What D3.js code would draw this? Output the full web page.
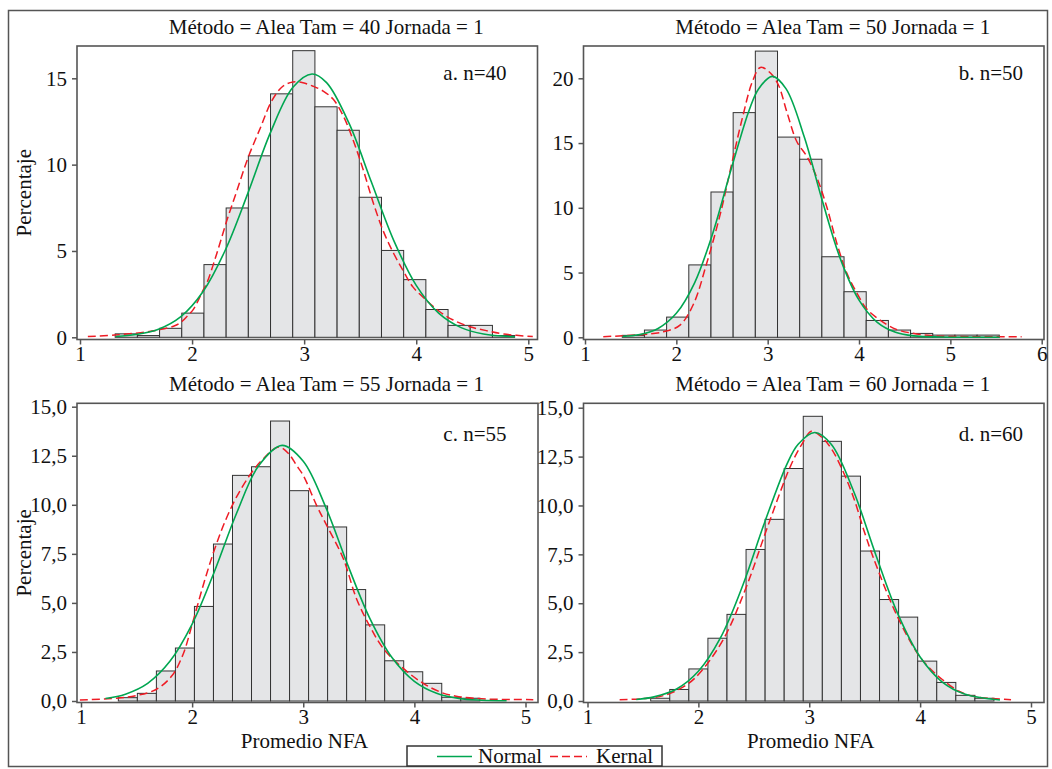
<!DOCTYPE html>
<html><head><meta charset="utf-8">
<script src="https://cdn.jsdelivr.net/npm/d3@7"></script>
<style>
body{margin:0;background:#fff}
</style>
</head><body>
<svg id="chart" width="1052" height="769"></svg>
<script>
// ---------- DATA ----------
const titles = ["Método = Alea Tam = 40 Jornada = 1","Método = Alea Tam = 50 Jornada = 1","Método = Alea Tam = 55 Jornada = 1","Método = Alea Tam = 60 Jornada = 1"];
const tags = ["a. n=40","b. n=50","c. n=55","d. n=60"];
const yTitle = "Percentaje";
const xTitle = "Promedio NFA";
const legendLabels = ["Normal","Kernal"];

const binStart = [1.314, 1.408, 1.336, 1.570];
const binWidth = [0.198, 0.2428, 0.1712, 0.172];

const pctA = [0.2,0.1,0.52,1.4,4.21,7.49,10.51,14.1,16.6,13.35,11.99,8.11,5.03,3.34,1.61,0.69,0.69,0.1];
const pctB = [0.15,0.56,1.56,5.59,11.22,17.35,22.1,15.46,13.75,6.22,3.52,1.3,0.56,0.3,0.17,0.17,0.17];
const pctC = [0.17,0.39,1.53,2.7,4.82,8.0,11.5,11.94,14.27,10.72,9.94,8.87,5.68,3.88,2.05,1.49,0.9,0.19,0.14];
const pctD = [0.14,0.59,1.64,3.21,4.43,7.75,9.29,11.89,14.56,13.28,11.5,7.67,5.19,4.29,2.04,0.95,0.29,0.14];

const normalA = [[1.32,0.05],[1.5,0.16],[1.7,0.47],[1.9,1.2],[2.1,2.67],[2.3,5.1],[2.5,8.38],[2.7,11.87],[2.9,14.48],[3.07,15.25],[3.2,14.75],[3.4,12.4],[3.6,8.99],[3.8,5.6],[4.0,3.01],[4.2,1.4],[4.4,0.56],[4.6,0.19],[4.88,0.03]];
const normalB = [[1.41,0.06],[1.6,0.21],[1.8,0.68],[2.0,1.85],[2.2,4.21],[2.4,8.06],[2.6,12.98],[2.8,17.59],[2.9,19.18],[3.05,20.15],[3.2,19.2],[3.4,15.48],[3.6,10.5],[3.8,5.98],[4.0,2.87],[4.2,1.16],[4.4,0.39],[4.6,0.11],[4.9,0.02],[5.2,0.0],[5.54,0.0]];
const normalC = [[1.22,0.13],[1.4,0.35],[1.6,0.9],[1.8,2.02],[2.0,3.92],[2.2,6.59],[2.4,9.57],[2.6,12.0],[2.81,13.03],[3.0,12.22],[3.2,9.91],[3.4,6.94],[3.6,4.2],[3.8,2.2],[4.0,1.0],[4.2,0.39],[4.4,0.13],[4.6,0.04],[4.83,0.01]];
const normalD = [[1.44,0.08],[1.6,0.21],[1.8,0.6],[2.0,1.52],[2.2,3.24],[2.4,5.91],[2.6,9.17],[2.8,12.13],[2.9,13.13],[3.05,13.73],[3.2,13.12],[3.4,10.73],[3.6,7.48],[3.8,4.44],[4.0,2.25],[4.2,0.97],[4.4,0.36],[4.72,0.05]];

const kernelA = [[1.07,0.04],[1.31,0.13],[1.54,0.27],[1.71,0.44],[1.85,0.68],[1.91,0.92],[1.96,1.25],[2.01,1.6],[2.1,2.75],[2.13,3.11],[2.22,4.84],[2.31,6.76],[2.4,8.49],[2.5,10.41],[2.61,12.14],[2.71,13.68],[2.81,14.54],[2.9,14.79],[2.99,14.74],[3.08,14.54],[3.17,14.26],[3.26,13.78],[3.35,12.81],[3.44,11.37],[3.53,9.64],[3.62,7.72],[3.71,6.09],[3.8,4.84],[3.89,3.78],[3.97,2.92],[4.09,2.15],[4.21,1.48],[4.33,1.0],[4.48,0.61],[4.63,0.38],[4.78,0.19],[5.04,0.04]];
const kernelB = [[1.2,0.05],[1.57,0.18],[1.86,0.43],[2.04,0.94],[2.19,2.6],[2.33,5.66],[2.48,9.49],[2.62,13.83],[2.73,17.14],[2.83,19.69],[2.92,20.84],[3.03,20.41],[3.12,19.44],[3.21,17.4],[3.32,15.1],[3.43,13.95],[3.54,12.3],[3.65,10.0],[3.76,7.19],[3.87,4.9],[3.98,3.37],[4.08,2.22],[4.23,1.33],[4.41,0.61],[4.63,0.26],[4.85,0.1],[5.22,0.05],[5.78,0.05]];
const kernelC = [[0.99,0.05],[1.32,0.14],[1.5,0.28],[1.68,0.6],[1.82,1.3],[1.92,2.4],[2.0,3.9],[2.1,5.9],[2.2,7.7],[2.3,9.2],[2.4,10.4],[2.53,11.6],[2.65,12.4],[2.78,12.95],[2.87,12.6],[2.94,12.0],[3.0,11.5],[3.12,9.97],[3.21,8.96],[3.36,7.26],[3.48,5.2],[3.6,3.8],[3.72,2.68],[3.9,1.66],[4.08,0.9],[4.25,0.42],[4.4,0.22],[4.65,0.1],[5.07,0.07]];
const kernelD = [[1.29,0.07],[1.5,0.12],[1.7,0.3],[1.9,0.85],[2.03,1.55],[2.23,3.2],[2.43,5.8],[2.63,9.0],[2.83,12.0],[2.93,13.1],[3.02,13.8],[3.11,13.5],[3.2,12.9],[3.3,11.8],[3.4,10.4],[3.5,8.6],[3.58,7.3],[3.78,4.5],[3.98,2.4],[4.1,1.6],[4.2,1.1],[4.35,0.5],[4.5,0.22],[4.82,0.07]];

const xTicksA = [1,2,3,4,5];
const xTicksB = [1,2,3,4,5,6];
const yTicksA = [0,5,10,15];
const yTicksB = [0,5,10,15,20];
const yTicksCD = [0,2.5,5,7.5,10,12.5,15];

// ---------- LAYOUT ----------
const FONT = 21;
const FAMILY = "'Liberation Serif', Tinos, 'Times New Roman', 'DejaVu Serif', serif";
const C_GREEN = "#00a651", C_RED = "#ee1c25";
const layout = [
  {box:[77,46,537.5,339.5],  xd:[1,5], xr:[80,528.3],  yd:[0,15], yr:[337.3,78.3]},
  {box:[583.5,46,1044,339.5],xd:[1,6], xr:[585,1041.7],yd:[0,20], yr:[337.3,78.3]},
  {box:[77,403.3,538,702.5], xd:[1,5], xr:[81,525.5],  yd:[0,15], yr:[701,406.7]},
  {box:[583.5,403.3,1044,702.5],xd:[1,5],xr:[587.5,1031],yd:[0,15],yr:[701,407.7]}
];
const panelData = [
  {pct:pctA, normal:normalA, kernel:kernelA, xt:xTicksA, yt:yTicksA, comma:false, ylab:true,  xlab:false, tagX:506.5, tagY:80},
  {pct:pctB, normal:normalB, kernel:kernelB, xt:xTicksB, yt:yTicksB, comma:false, ylab:false, xlab:false, tagX:1023, tagY:80},
  {pct:pctC, normal:normalC, kernel:kernelC, xt:xTicksA, yt:yTicksCD, comma:true, ylab:true,  xlab:true,  tagX:506.5, tagY:441},
  {pct:pctD, normal:normalD, kernel:kernelD, xt:xTicksA, yt:yTicksCD, comma:true, ylab:false, xlab:true,  tagX:1023, tagY:441}
];

const svg = d3.select("#chart").attr("font-family",FAMILY).style("font-family",FAMILY);
function txt(sel){ return sel.attr("font-family",FAMILY).style("font-family",FAMILY).style("font-size",FONT+"px").attr("fill","#111"); }

// outer frame
svg.append("rect").attr("x",8.5).attr("y",10.5).attr("width",1039).attr("height",756)
  .attr("fill","none").attr("stroke","#555").attr("stroke-width",1.5);

panelData.forEach((p,i)=>{
  const L = layout[i];
  const [bx0,by0,bx1,by1] = L.box;
  const x = d3.scaleLinear().domain(L.xd).range(L.xr);
  const y = d3.scaleLinear().domain(L.yd).range(L.yr);
  const g = svg.append("g");

  // bars
  g.selectAll("rect.bar").data(p.pct).join("rect").attr("class","bar")
    .attr("x",(d,k)=>x(binStart[i]+k*binWidth[i]))
    .attr("width",(d,k)=>x(binStart[i]+(k+1)*binWidth[i])-x(binStart[i]+k*binWidth[i]))
    .attr("y",d=>y(d)).attr("height",d=>y(0)-y(d))
    .attr("fill","#e4e5e7").attr("stroke","#333").attr("stroke-width",1);

  const line = d3.line().x(d=>x(d[0])).y(d=>y(d[1])).curve(d3.curveCatmullRom.alpha(0.5));
  g.append("path").attr("d",line(p.kernel)).attr("fill","none")
    .attr("stroke",C_RED).attr("stroke-width",1.5).attr("stroke-dasharray","8,4");
  g.append("path").attr("d",line(p.normal)).attr("fill","none")
    .attr("stroke",C_GREEN).attr("stroke-width",1.6);

  // frame box
  g.append("rect").attr("x",bx0).attr("y",by0).attr("width",bx1-bx0).attr("height",by1-by0)
    .attr("fill","none").attr("stroke","#555").attr("stroke-width",1.6);

  // axes
  const fmt = p.comma ? (d=>d3.format(".1f")(d).replace(".",",")) : (d=>String(d));
  const ya = g.append("g").attr("transform",`translate(${bx0},0)`)
    .call(d3.axisLeft(y).tickValues(p.yt).tickSize(5).tickPadding(5).tickFormat(fmt));
  const xa = g.append("g").attr("transform",`translate(0,${by1})`)
    .call(d3.axisBottom(x).tickValues(p.xt).tickSize(5).tickPadding(2).tickFormat(d=>String(d)));
  [ya,xa].forEach(a=>{
    a.select(".domain").remove();
    a.attr("font-size",null).attr("font-family",FAMILY);
    a.selectAll("line").attr("stroke","#555").attr("stroke-width",1.5);
    txt(a.selectAll("text"));
  });

  // title
  txt(g.append("text").attr("x",(bx0+bx1)/2+19).attr("y",by0-12).attr("text-anchor","middle")).text(titles[i]);
  // tag
  txt(g.append("text").attr("x",p.tagX).attr("y",p.tagY).attr("text-anchor","end")).text(tags[i]);
  if(p.ylab){
    txt(g.append("text").attr("transform",`translate(31,${(by0+by1)/2}) rotate(-90)`)
      .attr("text-anchor","middle")).text(yTitle);
  }
  if(p.xlab){
    txt(g.append("text").attr("x",(bx0+bx1)/2-3).attr("y",747.5).attr("text-anchor","middle")).text(xTitle);
  }
});

// legend
const lg = svg.append("g");
lg.append("rect").attr("x",407).attr("y",746).attr("width",255).attr("height",20)
  .attr("fill","#fff").attr("stroke","#333").attr("stroke-width",1.5);
lg.append("line").attr("x1",437).attr("x2",472).attr("y1",756.5).attr("y2",756.5)
  .attr("stroke",C_GREEN).attr("stroke-width",1.6);
txt(lg.append("text").attr("x",478).attr("y",762.5)).text(legendLabels[0]);
lg.append("line").attr("x1",550).attr("x2",587).attr("y1",756.5).attr("y2",756.5)
  .attr("stroke",C_RED).attr("stroke-width",1.5).attr("stroke-dasharray","8,4");
txt(lg.append("text").attr("x",596).attr("y",762.5)).text(legendLabels[1]);
</script>
</body></html>
